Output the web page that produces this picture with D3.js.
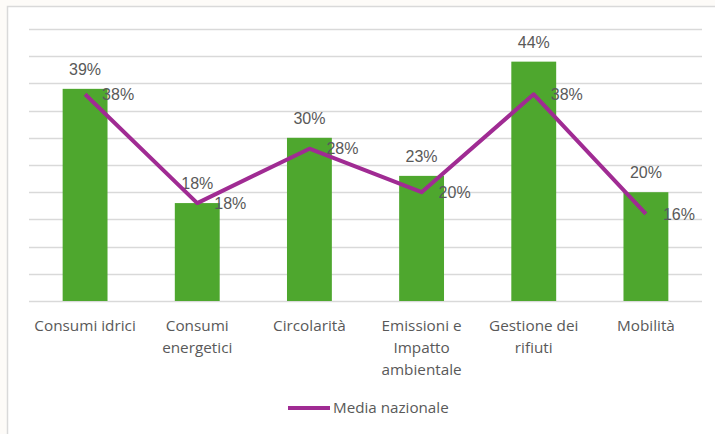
<!DOCTYPE html>
<html>
<head>
<meta charset="utf-8">
<script src="https://cdn.jsdelivr.net/npm/d3@7"></script>
<style>
  html, body { margin: 0; padding: 0; background: #fdfbf8; }
  svg { display: block; }
</style>
</head>
<body>
<div id="chart"></div>
<script>
const categories = [
  ['Consumi idrici'],
  ['Consumi', 'energetici'],
  ['Circolarità'],
  ['Emissioni e', 'Impatto', 'ambientale'],
  ['Gestione dei', 'rifiuti'],
  ['Mobilità']
];
const companyValues = [0.39, 0.18, 0.30, 0.23, 0.44, 0.20];
const nationalAvg = [0.38, 0.18, 0.28, 0.20, 0.38, 0.16];
const yTicks = [0, 0.05, 0.10, 0.15, 0.20, 0.25, 0.30, 0.35, 0.40, 0.45, 0.50];
const legendLabel = 'Media nazionale';

const green = '#4ea72e';
const purple = '#a02b93';
const textGray = '#595959';
const labelFont = '"Liberation Sans", Arial, sans-serif';
const axisFont = '"Open Sans", sans-serif';

const W = 715, H = 434;
const margin = {top: 29, right: 13, bottom: 133, left: 29};

const svg = d3.select('#chart').append('svg')
    .attr('width', W)
    .attr('height', H);

// chart area frame
svg.append('rect')
    .attr('x', 7.5).attr('y', 6.5)
    .attr('width', W + 10).attr('height', H + 10)
    .attr('fill', '#ffffff')
    .attr('stroke', '#d9d9d9')
    .attr('stroke-width', 1.5);

const idx = categories.map((d, i) => i);

const x = d3.scaleBand()
    .domain(idx)
    .range([margin.left, W - margin.right])
    .paddingInner(0.6)
    .paddingOuter(0.3);

const y = d3.scaleLinear()
    .domain([0, 0.5])
    .range([H - margin.bottom, margin.top]);

// gridlines
svg.append('g')
  .selectAll('line')
  .data(yTicks)
  .join('line')
    .attr('x1', margin.left)
    .attr('x2', W - margin.right)
    .attr('y1', d => Math.round(y(d)) + 0.5)
    .attr('y2', d => Math.round(y(d)) + 0.5)
    .attr('stroke', '#d9d9d9')
    .attr('stroke-width', 1.3);

// bars
svg.append('g')
  .selectAll('rect')
  .data(companyValues)
  .join('rect')
    .attr('x', (d, i) => x(i))
    .attr('y', d => y(d))
    .attr('width', x.bandwidth())
    .attr('height', d => y(0) - y(d))
    .attr('fill', green);

// bar labels
svg.append('g')
  .selectAll('text')
  .data(companyValues)
  .join('text')
    .attr('x', (d, i) => x(i) + x.bandwidth() / 2)
    .attr('y', d => y(d) - 14)
    .attr('text-anchor', 'middle')
    .attr('font-family', labelFont)
    .attr('font-size', 16)
    .attr('fill', textGray)
    .text(d => Math.round(d * 100) + '%');

// national average line
const line = d3.line()
    .x((d, i) => x(i) + x.bandwidth() / 2)
    .y(d => y(d));

svg.append('path')
    .datum(nationalAvg)
    .attr('d', line)
    .attr('fill', 'none')
    .attr('stroke', purple)
    .attr('stroke-width', 4)
    .attr('stroke-linejoin', 'round');

svg.append('g')
  .selectAll('text')
  .data(nationalAvg)
  .join('text')
    .attr('x', (d, i) => x(i) + x.bandwidth() / 2 + 17)
    .attr('y', d => y(d))
    .attr('dy', '0.35em')
    .attr('font-family', labelFont)
    .attr('font-size', 16)
    .attr('fill', textGray)
    .text(d => Math.round(d * 100) + '%');

// category labels
const cat = svg.append('g')
  .selectAll('text')
  .data(categories)
  .join('text')
    .attr('x', (d, i) => x(i) + x.bandwidth() / 2)
    .attr('y', y(0) + 30)
    .attr('text-anchor', 'middle')
    .attr('font-family', axisFont)
    .attr('font-size', 15.3)
    .attr('fill', textGray);

cat.selectAll('tspan')
  .data(d => d)
  .join('tspan')
    .attr('x', function() { return this.parentNode.getAttribute('x'); })
    .attr('dy', (d, i) => i === 0 ? 0 : 22)
    .text(d => d);

// legend
const legend = svg.append('g')
    .attr('transform', 'translate(288, 408)');

legend.append('line')
    .attr('x1', 0).attr('x2', 42)
    .attr('y1', 0).attr('y2', 0)
    .attr('stroke', purple)
    .attr('stroke-width', 4);

legend.append('text')
    .attr('x', 45)
    .attr('y', 0)
    .attr('dy', '0.35em')
    .attr('font-family', axisFont)
    .attr('font-size', 15.2)
    .attr('fill', textGray)
    .text(legendLabel);
</script>
</body>
</html>
